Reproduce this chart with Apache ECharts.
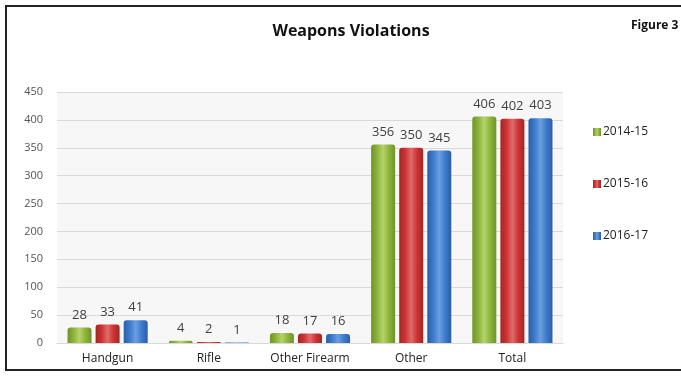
<!DOCTYPE html>
<html><head><meta charset="utf-8">
<script src="https://cdn.jsdelivr.net/npm/echarts@6/dist/echarts.min.js"></script>
<style>html,body{margin:0;padding:0;background:#fff}#c{width:681px;height:380px}
#b{position:absolute;left:5px;top:5px;width:676px;height:366px;border:2px solid #222;border-right:none;box-sizing:border-box;pointer-events:none}</style>
</head><body><div id="c"></div><div id="b"></div>
<script>
const categories = ['Handgun','Rifle','Other Firearm','Other','Total'];
const seriesNames = ['2014-15','2015-16','2016-17'];
const v2014 = [28,4,18,356,406];
const v2015 = [33,2,17,350,402];
const v2016 = [41,1,16,345,403];
const yTicks = [0,50,100,150,200,250,300,350,400,450];

const cols = [['#b5d36a','#8cb33a','#6f9428'],['#e06a6a','#cc3333','#a52525'],['#6a9fe0','#3d7acb','#2a5ea8']];
function grad(c){return new echarts.graphic.LinearGradient(0,0,1,0,[{offset:0,color:c[2]},{offset:0.25,color:c[1]},{offset:0.5,color:c[0]},{offset:0.75,color:c[1]},{offset:1,color:c[2]}]);}
const chart = echarts.init(document.getElementById('c'));
const data = [v2014,v2015,v2016];
chart.setOption({
  animation:false,
  title:[{text:'Weapons Violations',left:346,top:18,textAlign:'center',textStyle:{fontFamily:'Open Sans',fontWeight:'bold',fontSize:16,color:'#111'}},
         {text:'Figure 3',left:626,top:15,textStyle:{fontFamily:'Open Sans',fontWeight:'bold',fontSize:12,color:'#111'}}],
  legend:{orient:'vertical',left:588,top:121,itemGap:40,itemWidth:8,itemHeight:8,icon:'rect',
    textStyle:{fontFamily:'Open Sans',fontSize:12,color:'#222',padding:[0,0,0,-3]},data:seriesNames},
  grid:{left:57,right:118,top:92,bottom:37,show:true,backgroundColor:'#f7f7f7',borderWidth:0},
  xAxis:{type:'category',data:categories,axisTick:{show:false},axisLine:{lineStyle:{color:'#d9d9d9'}},
    axisLabel:{interval:0,fontFamily:'Open Sans',fontSize:12,color:'#222',margin:10}},
  yAxis:{type:'value',min:0,max:450,interval:50,axisLine:{show:false},axisTick:{show:false},
    splitLine:{lineStyle:{color:'#d9d9d9'}},
    axisLabel:{fontFamily:'Open Sans',fontSize:11,color:'#555',margin:14,formatter:v=>yTicks.includes(v)?String(v):''}},
  series:seriesNames.map((n,i)=>({name:n,type:'bar',data:data[i],barWidth:24,barGap:'17%',
    itemStyle:{color:grad(cols[i]),borderRadius:[3,3,0,0]},
    label:{show:true,position:'top',distance:6,fontFamily:'Open Sans',fontSize:13,color:'#404040'}}))
});
</script></body></html>
